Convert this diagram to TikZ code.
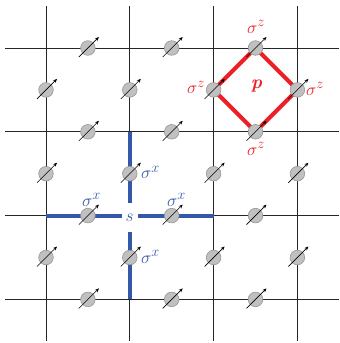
\documentclass[tikz,border=0pt]{standalone}
\usetikzlibrary{arrows.meta}
\definecolor{tred}{RGB}{236,32,38}
\definecolor{tblue}{RGB}{52,88,168}
\definecolor{spinfill}{RGB}{192,192,192}
\definecolor{spinedge}{RGB}{150,150,150}
\begin{document}
\begin{tikzpicture}[x=1pt,y=-1pt,
  gridline/.style={line width=0.8pt, draw=black!85},
  spin/.style={circle, minimum size=14.6pt, inner sep=0pt, fill=spinfill, draw=spinedge, line width=0.6pt},
  spinarrow/.style={line width=0.6pt, -{Stealth[length=4pt,width=3.4pt]}},
  redbond/.style={line width=4pt, draw=tred},
  bluebond/.style={line width=4pt, draw=tblue},
  redlabel/.style={text=tred, font=\fontsize{19}{19}\selectfont, inner sep=0pt},
  bluelabel/.style={text=tblue, font=\fontsize{19}{19}\selectfont, inner sep=0pt}]
\useasboundingbox (0,0) rectangle (340,343);
% lattice vertices
\foreach \i/\x in {0/46,1/129.8,2/213.6,3/297.4}{
  \foreach \j/\y in {0/48,1/131.8,2/215.6,3/299.4}{
    \coordinate (v\i\j) at (\x,\y);
  }
}
% grid lines
\foreach \x in {46,129.8,213.6,297.4}{
  \draw[gridline] (\x,6) -- (\x,341);
}
\foreach \y in {48,131.8,215.6,299.4}{
  \draw[gridline] (5,\y) -- (339,\y);
}
% spin positions: h = on horizontal edges, e = on vertical edges
\foreach \i/\x in {0/87.9,1/171.7,2/255.5}{
  \foreach \j/\y in {0/48,1/131.8,2/215.6,3/299.4}{
    \coordinate (h\i\j) at (\x,\y);
  }
}
\foreach \i/\x in {0/46,1/129.8,2/213.6,3/297.4}{
  \foreach \j/\y in {0/89.9,1/173.7,2/257.5}{
    \coordinate (e\i\j) at (\x,\y);
  }
}
% star operator (blue)
\node[fill=white, minimum width=16pt, minimum height=29pt, inner sep=0pt] (s) at (129.8,217.5) {};
\draw[bluebond] (v11) -- (v11 |- s.north);
\draw[bluebond] (v13) -- (v13 |- s.south);
\draw[bluebond] (v02) -- (v02 -| s.west);
\draw[bluebond] (v22) -- (v22 -| s.east);
\node[text=tblue, font=\fontsize{19}{19}\selectfont\itshape, inner sep=0pt] (slabel) at (129.5,217.5) {$s$};
% plaquette operator (red)
\draw[redbond] (h20) -- (e20) -- (h21) -- (e30) -- cycle;
% spins
\foreach \n in {h00,h10,h20,h01,h11,h21,h02,h12,h22,h03,h13,h23,
                e00,e10,e20,e30,e01,e11,e21,e31,e02,e12,e22,e32}{
  \node[spin] (n\n) at (\n) {};
  \draw[spinarrow] ([shift={(-9,9)}]\n) -- ([shift={(11,-11)}]\n);
}
% labels
\node[redlabel, anchor=base west] (lzt) at (247,33) {$\sigma^z$};
\node[redlabel, anchor=base west] (lzl) at (187,93.5) {$\sigma^z$};
\node[redlabel, anchor=base west] (lzr) at (306,95) {$\sigma^z$};
\node[redlabel, anchor=base west] (lzb) at (247,155) {$\sigma^z$};
\node[text=tred, font=\fontsize{19}{19}\selectfont\bfseries\itshape, inner sep=0pt] (p) at (256.5,86) {p};
\node[bluelabel, anchor=base west] (lxt) at (141,178.5) {$\sigma^x$};
\node[bluelabel, anchor=base west] (lxl) at (82,206) {$\sigma^x$};
\node[bluelabel, anchor=base west] (lxr) at (167,206) {$\sigma^x$};
\node[bluelabel, anchor=base west] (lxb) at (141,263) {$\sigma^x$};
\end{tikzpicture}
\end{document}
